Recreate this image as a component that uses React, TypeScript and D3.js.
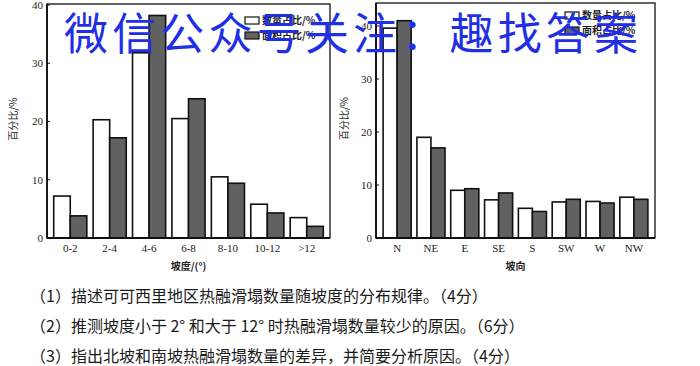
import React from "react";
import * as d3 from "d3";

// slope chart data (left)
const slopeCats = ["0-2", "2-4", "4-6", "6-8", "8-10", "10-12", ">12"];
const slopeCount = [7.2, 20.3, 31.8, 20.5, 10.5, 5.8, 3.5];
const slopeArea = [3.8, 17.2, 38.2, 23.9, 9.4, 4.3, 2.0];

// aspect chart data (right)
const aspectCats = ["N", "NE", "E", "SE", "S", "SW", "W", "NW"];
const aspectCount = [39.6, 19.0, 9.0, 7.2, 5.6, 6.8, 6.9, 7.7];
const aspectArea = [41.0, 17.0, 9.3, 8.5, 5.0, 7.3, 6.6, 7.3];

const yTicks = [0, 10, 20, 30, 40];
const seriesNames = ["数量占比/%", "面积占比/%"];

const questions = [
  "（1）描述可可西里地区热融滑塌数量随坡度的分布规律。（4分）",
  "（2）推测坡度小于 2° 和大于 12° 时热融滑塌数量较少的原因。（6分）",
  "（3）指出北坡和南坡热融滑塌数量的差异，并简要分析原因。（4分）",
];

const serif = "'Liberation Serif', 'DejaVu Serif', serif";
const cjk = "'Noto Sans CJK SC', sans-serif";
const darkFill = "#616161";

type PanelProps = {
  cats: string[];
  count: number[];
  area: number[];
  left: number;
  right: number;
  top: number;
  bottom: number;
  yTop: number; // pixel of value 40
  padInner: number;
  padOuter: number;
  xTitle: string;
  yTitleX: number;
  legendX: number;
  legendY: number;
};

const Panel = (p: PanelProps) => {
  const x = d3
    .scaleBand<string>()
    .domain(p.cats)
    .range([p.left, p.right])
    .paddingInner(p.padInner)
    .paddingOuter(p.padOuter);
  const sub = d3
    .scaleBand<number>()
    .domain([0, 1])
    .range([0, x.bandwidth()]);
  const y = d3.scaleLinear().domain([0, 40]).range([p.bottom, p.yTop]);

  return (
    <g>
      {/* bars */}
      {p.cats.map((c, i) => (
        <g key={c}>
          {[p.count[i], p.area[i]].map((v, j) => (
            <rect
              key={j}
              x={x(c)! + sub(j)!}
              y={y(v)}
              width={sub.bandwidth()}
              height={p.bottom - y(v)}
              fill={j === 0 ? "#fff" : darkFill}
              stroke="#111"
              strokeWidth={1.6}
            />
          ))}
        </g>
      ))}
      {/* frame */}
      <rect
        x={p.left}
        y={p.top}
        width={p.right - p.left}
        height={p.bottom - p.top}
        fill="none"
        stroke="#111"
        strokeWidth={1.3}
      />
      <line x1={p.left} x2={p.right} y1={p.bottom} y2={p.bottom} stroke="#111" strokeWidth={2} />
      <line x1={p.left} x2={p.left} y1={p.top} y2={p.bottom} stroke="#111" strokeWidth={1.8} />
      {/* y ticks */}
      {yTicks.map((t) => (
        <g key={t}>
          <line x1={p.left} x2={p.left + 3} y1={y(t)} y2={y(t)} stroke="#111" />
          <text
            x={p.left - 4}
            y={y(t)}
            dy="0.35em"
            textAnchor="end"
            fontFamily={serif}
            fontSize={11}
            fill="#222"
          >
            {t}
          </text>
        </g>
      ))}
      {/* x labels */}
      {p.cats.map((c) => (
        <text
          key={c}
          x={x(c)! + x.bandwidth() / 2}
          y={p.bottom + 14}
          textAnchor="middle"
          fontFamily={serif}
          fontSize={11}
          fill="#222"
        >
          {c}
        </text>
      ))}
      <text
        x={(p.left + p.right) / 2}
        y={p.bottom + 32}
        textAnchor="middle"
        fontFamily={cjk}
        fontSize={10}
        fontWeight="bold"
        fill="#222"
      >
        {p.xTitle}
      </text>
      <text
        transform={`translate(${p.yTitleX},${(p.top + p.bottom) / 2 - 2}) rotate(-90)`}
        textAnchor="middle"
        fontFamily={cjk}
        fontSize={10}
        fill="#222"
      >
        百分比/%
      </text>
      {/* legend */}
      {seriesNames.map((s, i) => (
        <g key={s} transform={`translate(${p.legendX},${p.legendY + i * 15})`}>
          <rect
            x={0}
            y={-7}
            width={14}
            height={7}
            fill={i === 0 ? "#fff" : darkFill}
            stroke="#111"
            strokeWidth={1.2}
          />
          <text x={17} y={0} fontFamily={cjk} fontSize={10} fontWeight="bold" fill="#222">
            {s}
          </text>
        </g>
      ))}
    </g>
  );
};

const App = () => {
  const W = 700;
  const H = 366;
  return (
    <svg
      width={W}
      height={H}
      style={{ position: "absolute", left: 0, top: 0, background: "#fff" }}
    >
      <rect width={W} height={H} fill="#fff" />
      <Panel
        cats={slopeCats}
        count={slopeCount}
        area={slopeArea}
        left={47}
        right={330}
        top={4}
        bottom={238}
        yTop={5}
        padInner={0.16}
        padOuter={0.17}
        xTitle="坡度/(°)"
        yTitleX={17}
        legendX={245}
        legendY={24}
      />
      <Panel
        cats={aspectCats}
        count={aspectCount}
        area={aspectArea}
        left={376}
        right={655}
        top={3}
        bottom={238}
        yTop={26}
        padInner={0.17}
        padOuter={0.21}
        xTitle="坡向"
        yTitleX={348}
        legendX={565}
        legendY={19}
      />
      {/* questions */}
      {questions.map((q, i) => (
        <text
          key={i}
          x={30}
          y={302 + i * 30}
          fontFamily={cjk}
          fontSize={16}
          fill="#1a1a1a"
        >
          {q}
        </text>
      ))}
      {/* watermark */}
      <text
        x={64}
        y={50}
        fontFamily={cjk}
        fontSize={44}
        fill="#1f2fe6"
        textLength={574}
        lengthAdjust="spacing"
      >
        微信公众号关注：趣找答案
      </text>
    </svg>
  );
};

export default App;
